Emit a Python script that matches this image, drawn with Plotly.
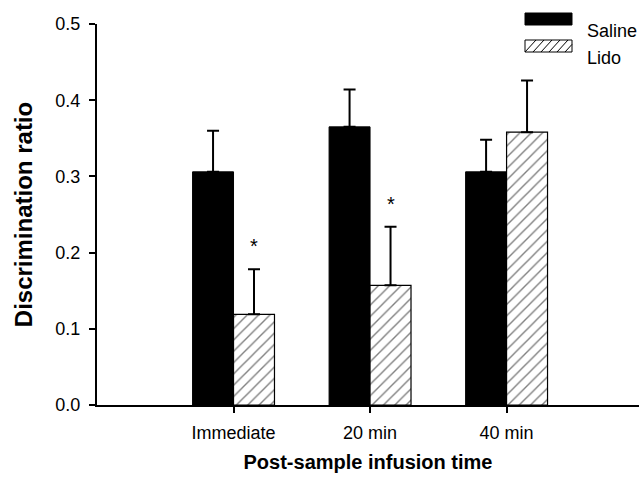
import plotly.graph_objects as go

categories = ["Immediate", "20 min", "40 min"]
saline = [0.306, 0.365, 0.306]
saline_err = [0.054, 0.049, 0.042]
lido = [0.119, 0.157, 0.358]
lido_err = [0.059, 0.077, 0.068]
stars = ["*", "*", ""]
y_ticks = [0.0, 0.1, 0.2, 0.3, 0.4, 0.5]

xpos = list(range(len(categories)))
font = "Liberation Sans, Arial, sans-serif"

W, H = 639, 485
L, R, T, B = 97, 0, 24, 80
PW, PH = W - L - R, H - T - B


def px(x):
    return (x - L) / PW


def py(y):
    return 1 - (y - T) / PH


fig = go.Figure()
fig.add_trace(go.Bar(
    x=xpos, y=saline, name="Saline", offsetgroup="s",
    marker=dict(color="black", line=dict(color="black", width=1)),
    error_y=dict(type="data", array=saline_err, arrayminus=[0]*3, symmetric=False,
                 color="black", thickness=2, width=6),
))
fig.add_trace(go.Bar(
    x=xpos, y=lido, name="Lido", offsetgroup="l",
    marker=dict(color="white", line=dict(color="black", width=1.2),
                pattern=dict(shape="/", fgcolor="black", bgcolor="white", size=8, solidity=0.17)),
    error_y=dict(type="data", array=lido_err, arrayminus=[0]*3, symmetric=False,
                 color="black", thickness=2, width=6),
))

# significance stars above Lido bars
for i, s in enumerate(stars):
    if s:
        fig.add_annotation(x=i + 0.15, y=lido[i] + lido_err[i], text=s, showarrow=False,
                           yshift=23, font=dict(family=font, size=20, color="black"))

# custom legend
bx0, bx1 = px(525), px(572)
fig.add_shape(type="rect", xref="paper", yref="paper", x0=bx0, x1=bx1, y0=py(25), y1=py(13),
              fillcolor="black", line=dict(color="black", width=1))
fig.add_shape(type="rect", xref="paper", yref="paper", x0=bx0, x1=bx1, y0=py(52), y1=py(40),
              fillcolor="white", line=dict(color="black", width=1))
for k in range(6):
    xa = 525 + k * 8
    xb = xa + 11
    ya, yb = 52, 40
    if xb > 572:
        yb = 52 - (572 - xa) * 12 / 11
        xb = 572
    if xa < 572:
        fig.add_shape(type="line", xref="paper", yref="paper", x0=px(xa), x1=px(xb),
                      y0=py(ya), y1=py(yb), line=dict(color="black", width=1))
fig.add_annotation(xref="paper", yref="paper", x=px(585), y=py(19), text="Saline", showarrow=False,
                   xanchor="left", font=dict(family=font, size=18, color="black"))
fig.add_annotation(xref="paper", yref="paper", x=px(585), y=py(46), text="Lido", showarrow=False,
                   xanchor="left", font=dict(family=font, size=18, color="black"))

fig.update_layout(
    width=W, height=H,
    margin=dict(l=L, r=R, t=T, b=B, autoexpand=False),
    plot_bgcolor="white", paper_bgcolor="white",
    showlegend=False,
    barmode="group", bargap=0.4, bargroupgap=0,
    font=dict(family=font, size=18, color="black"),
    xaxis=dict(
        range=[-1, 2.97], tickmode="array", tickvals=xpos, ticktext=categories,
        showline=True, linecolor="black", linewidth=2, ticks="outside", ticklen=6,
        tickcolor="black", tickwidth=1.5, showgrid=False, zeroline=False, automargin=False,
        tickfont=dict(family=font, size=18), ticklabelstandoff=4,
        title=dict(text="<b>Post-sample infusion time</b>", font=dict(family=font, size=20), standoff=13),
    ),
    yaxis=dict(
        range=[0, 0.5], tickmode="array", tickvals=y_ticks,
        ticktext=[f"{v:.1f}" for v in y_ticks],
        showline=True, linecolor="black", linewidth=2, ticks="outside", ticklen=6,
        tickcolor="black", tickwidth=1.5, showgrid=False, zeroline=False, automargin=False,
        tickfont=dict(family=font, size=18), ticklabelstandoff=5,
        title=dict(text="<b>Discrimination ratio</b>", font=dict(family=font, size=24), standoff=16),
    ),
)

fig.write_html("out.html", config={"displayModeBar": False},
               post_script="document.body.style.margin='0px';document.body.style.overflow='hidden';")
